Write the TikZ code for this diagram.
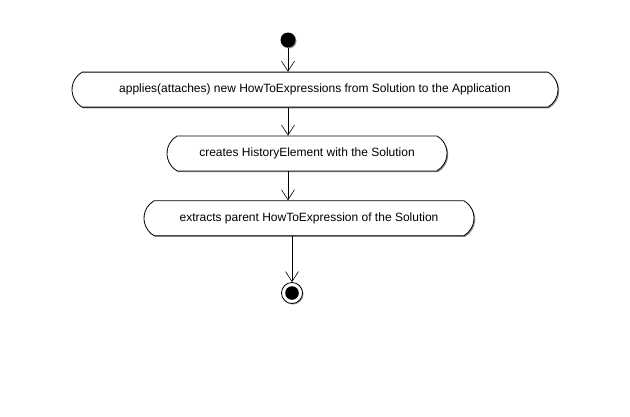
\documentclass[tikz,border=0pt]{standalone}
\usepackage{fontspec}
\setmainfont{Liberation Sans}
\usepackage{tikz}
\usetikzlibrary{shapes.misc, arrows.meta, positioning, shadows}

\begin{document}
\begin{tikzpicture}[
    x=1pt, y=-1pt,
    font=\fontsize{12pt}{14pt}\selectfont,
    action/.style={rounded rectangle, rounded rectangle arc length=120, draw, thick, fill=white, minimum height=35pt, inner sep=0pt, drop shadow={shadow xshift=1.2pt, shadow yshift=-1.2pt, fill=black!45, opacity=1}},
    initial/.style={circle, fill=black, minimum size=15pt, inner sep=0pt, drop shadow={shadow xshift=1pt, shadow yshift=-1pt, fill=black!40, opacity=1}},
    final/.style={circle, draw, thick, fill=white, minimum size=21pt, inner sep=0pt, path picture={\fill[black] (path picture bounding box.center) circle (6.8pt);}, drop shadow={shadow xshift=1pt, shadow yshift=-1pt, fill=black!40, opacity=1}},
    arrow/.style={-{Straight Barb[length=10pt, width=13pt]}, semithick}
]
    \useasboundingbox[fill=white] (0,0) rectangle (630,416);
    \node [initial] (start) at (288,40) {};
    \node [action, minimum width=486pt, below=24pt of start, xshift=27pt] (apply) {applies(attaches) new HowToExpressions from Solution to the Application};
    \node [action, minimum width=280pt, below=28pt of apply, xshift=-8pt] (history) {creates HistoryElement with the Solution};
    \node [action, minimum width=330pt, below=29pt of history, xshift=2pt] (extract) {extracts parent HowToExpression of the Solution};
    \node [final, below=46pt of extract, xshift=-17pt] (end) {};
    \draw [arrow] (start) -- (start |- apply.north);
    \draw [arrow] (start |- apply.south) -- (start |- history.north);
    \draw [arrow] (start |- history.south) -- (start |- extract.north);
    \draw [arrow] (end |- extract.south) -- (end.north);
\end{tikzpicture}
\end{document}
